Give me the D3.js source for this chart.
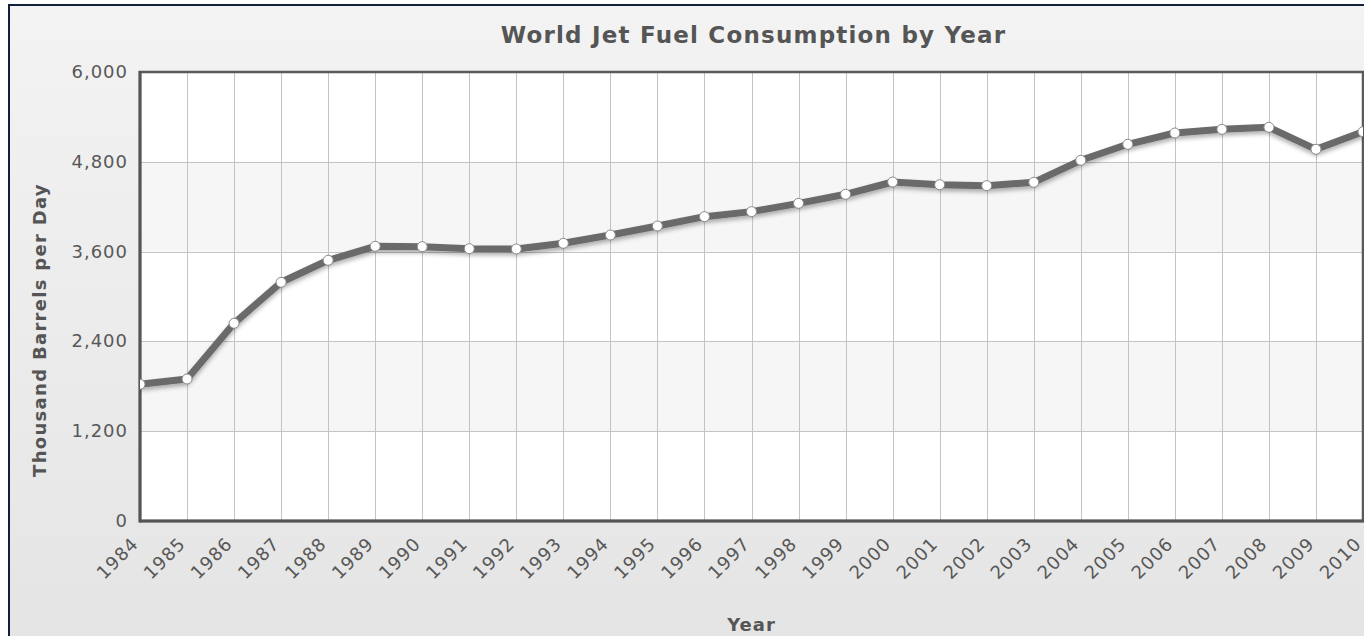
<!DOCTYPE html>
<html>
<head>
<meta charset="utf-8">
<script src="https://cdn.jsdelivr.net/npm/d3@7"></script>
<style>
  body { margin: 0; background: #fff; }
  svg { display: block; }
</style>
</head>
<body>
<svg id="chart" width="1364" height="636"></svg>
<script>
// data
const years = [1984, 1985, 1986, 1987, 1988, 1989, 1990, 1991, 1992, 1993, 1994, 1995, 1996,
  1997, 1998, 1999, 2000, 2001, 2002, 2003, 2004, 2005, 2006, 2007, 2008, 2009, 2010]
const consumption = [1827, 1898, 2642, 3190, 3484, 3671, 3666, 3639, 3635, 3711, 3822, 3942, 4067,
  4134, 4245, 4366, 4530, 4494, 4481, 4526, 4820, 5034, 5185, 5234, 5261, 4967, 5202]
const yTicks = [0, 1200, 2400, 3600, 4800, 6000]

const chartTitle = 'World Jet Fuel Consumption by Year'
const xTitle = 'Year'
const yTitle = 'Thousand Barrels per Day'

const svg = d3.select('#chart')
const W = 1364, H = 636
const plot = { left: 140, right: 1363, top: 72, bottom: 521 }
const font = 'DejaVu Sans, Verdana, sans-serif'

const defs = svg.append('defs')
const grad = defs.append('linearGradient').attr('id', 'bg').attr('x1', 0).attr('y1', 0).attr('x2', 0).attr('y2', 1)
grad.append('stop').attr('offset', 0).attr('stop-color', '#f3f3f3')
grad.append('stop').attr('offset', 1).attr('stop-color', '#e4e4e4')

const shadow = defs.append('filter').attr('id', 'shadow')
  .attr('x', '-5%').attr('y', '-20%').attr('width', '110%').attr('height', '150%')
shadow.append('feDropShadow').attr('dx', 0).attr('dy', 3).attr('stdDeviation', 2.2)
  .attr('flood-color', '#000').attr('flood-opacity', 0.3)

defs.append('clipPath').attr('id', 'clip').append('rect')
  .attr('x', plot.left).attr('y', plot.top - 10)
  .attr('width', plot.right - plot.left).attr('height', plot.bottom - plot.top + 20)

// outer frame (runs off the right and bottom edges)
svg.append('rect')
  .attr('x', 9).attr('y', 5).attr('width', W + 20).attr('height', H + 20)
  .attr('fill', 'url(#bg)').attr('stroke', '#10203d').attr('stroke-width', 2)

const x = d3.scalePoint().domain(years).range([plot.left, plot.right])
const y = d3.scaleLinear().domain([0, 6000]).range([plot.bottom, plot.top])

// plot background with alternating bands
svg.append('rect')
  .attr('x', plot.left).attr('y', plot.top)
  .attr('width', plot.right - plot.left).attr('height', plot.bottom - plot.top)
  .attr('fill', '#fff')
svg.append('g').selectAll('rect')
  .data(d3.pairs(yTicks).filter((p, i) => i % 2 === 1))
  .join('rect')
  .attr('x', plot.left).attr('width', plot.right - plot.left)
  .attr('y', d => y(d[1])).attr('height', d => y(d[0]) - y(d[1]))
  .attr('fill', '#f6f6f6')

// grid
const grid = svg.append('g').attr('stroke', '#c4c4c4').attr('stroke-width', 1)
grid.selectAll('.hg').data(yTicks.slice(1, -1)).join('line')
  .attr('x1', plot.left).attr('x2', plot.right)
  .attr('y1', d => Math.round(y(d)) + 0.5).attr('y2', d => Math.round(y(d)) + 0.5)
grid.selectAll('.vg').data(years.slice(1)).join('line')
  .attr('x1', d => Math.round(x(d)) + 0.5).attr('x2', d => Math.round(x(d)) + 0.5)
  .attr('y1', plot.top).attr('y2', plot.bottom)

// border
svg.append('rect')
  .attr('x', plot.left).attr('y', plot.top)
  .attr('width', plot.right - plot.left).attr('height', plot.bottom - plot.top)
  .attr('fill', 'none').attr('stroke', '#5a5a5a').attr('stroke-width', 2.5)
svg.append('line').attr('x1', plot.left).attr('x2', plot.left).attr('y1', plot.top - 1).attr('y2', plot.bottom + 1.5)
  .attr('stroke', '#555').attr('stroke-width', 3)
svg.append('line').attr('x1', plot.left).attr('x2', plot.right + 1).attr('y1', plot.bottom).attr('y2', plot.bottom)
  .attr('stroke', '#555').attr('stroke-width', 3)

// series
const series = years.map((yr, i) => ({ yr, v: consumption[i] }))
const g = svg.append('g').attr('clip-path', 'url(#clip)')
g.append('path')
  .datum(series)
  .attr('d', d3.line().x(d => x(d.yr)).y(d => y(d.v)))
  .attr('fill', 'none').attr('stroke', '#6b6b6b').attr('stroke-width', 7)
  .attr('stroke-linejoin', 'round').attr('filter', 'url(#shadow)')
g.selectAll('circle').data(series).join('circle')
  .attr('cx', d => x(d.yr)).attr('cy', d => y(d.v)).attr('r', 5)
  .attr('fill', '#fff').attr('stroke', '#8a8a8a').attr('stroke-width', 1)

// axes
const yAxis = svg.append('g')
  .attr('transform', `translate(${plot.left},0)`)
  .call(d3.axisLeft(y).tickValues(yTicks).tickSize(0).tickPadding(12).tickFormat(d3.format(',')))
yAxis.select('.domain').remove()
yAxis.selectAll('text')
  .attr('font-family', font).attr('font-size', 18).attr('letter-spacing', 1)
  .attr('fill', '#585858').attr('dy', '0.3em')

const xAxis = svg.append('g')
  .attr('transform', `translate(0,${plot.bottom})`)
  .call(d3.axisBottom(x).tickSize(0))
xAxis.select('.domain').remove()
xAxis.selectAll('text')
  .attr('font-family', font).attr('font-size', 18).attr('letter-spacing', 1)
  .attr('fill', '#585858')
  .attr('y', 0).attr('dy', 0)
  .attr('text-anchor', 'end')
  .attr('transform', 'translate(-1,24) rotate(-45)')

// titles
svg.append('text')
  .attr('x', (plot.left + plot.right) / 2 + 2).attr('y', 43)
  .attr('text-anchor', 'middle')
  .attr('font-family', font).attr('font-weight', 'bold').attr('font-size', 23).attr('letter-spacing', 1.2)
  .attr('fill', '#555').text(chartTitle)

svg.append('text')
  .attr('x', (plot.left + plot.right) / 2).attr('y', 631)
  .attr('text-anchor', 'middle')
  .attr('font-family', font).attr('font-weight', 'bold').attr('font-size', 18).attr('letter-spacing', 1)
  .attr('fill', '#555').text(xTitle)

svg.append('text')
  .attr('transform', 'translate(46,330) rotate(-90)')
  .attr('text-anchor', 'middle')
  .attr('font-family', font).attr('font-weight', 'bold').attr('font-size', 18).attr('letter-spacing', 1.3)
  .attr('fill', '#555').text(yTitle)
</script>
</body>
</html>
